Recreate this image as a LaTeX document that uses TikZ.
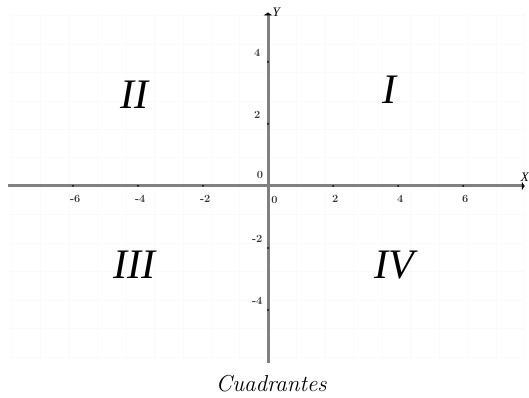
\documentclass[tikz,border=0pt]{standalone}
\usepackage{fontspec}
\newfontfamily\numerales{Liberation Serif}
\usepackage{tikz}
\usetikzlibrary{arrows.meta}

\tikzset{
  eje/.style={line width=3pt, black!50, -{Latex[length=3pt,width=10pt,black]}},
  nombreeje/.style={font=\fontsize{13}{13}\selectfont\numerales\itshape, text=black},
  marca/.style={font=\fontsize{11}{11}\selectfont\bfseries, inner sep=1pt, text=black!80},
  cuadrante/.style={font=\fontsize{42}{42}\selectfont\numerales\itshape, inner sep=0pt},
}

\begin{document}
\begin{tikzpicture}[x=32.5pt, y=31pt]
        \useasboundingbox (-268pt,186pt) rectangle (261pt,-212pt);
        %cuadricula muy tenue
        \draw[gray!4, very thin] (-8,-5.7) grid (7.9,5.6);
        %ejes
        \coordinate (xi) at (-8,0);
        \coordinate (xf) at (7.9,0);
        \coordinate (yi) at (0,-5.7);
        \coordinate (yf) at (0,5.6);
        \draw[eje] (xi)--(xf) node[nombreeje, above=2pt, inner sep=1pt] (ejeX) {X};
        \draw[eje] (yi)--(yf) node[nombreeje, right, inner sep=3pt] (ejeY) {Y};
        %marcas del eje X
        \foreach \i in {-6,-4,-2,2,4,6}{
            \fill (\i,0) circle (1pt);
            \node[marca] (mx\i) at (\i+0.07,-0.42) {\i};
        }
        \node[marca] (mx0) at (0.2,-0.44) {0};
        %marcas del eje Y
        \foreach \j in {-4,-2,2,4}{
            \fill (0,\j) circle (1pt);
            \node[marca] (my\j) at (-0.33,\j+0.3) {\j};
        }
        \node[marca] (my0) at (-0.25,0.37) {0};
        %cuadrantes
        \node[cuadrante] (q1) at (3.75,3.1) {I};
        \node[cuadrante] (q2) at (-4.1,2.95) {II};
        \node[cuadrante] (q3) at (-4.1,-2.55) {III};
        \node[cuadrante] (q4) at (3.9,-2.55) {IV};
        \node[font=\fontsize{23}{23}\selectfont\itshape] (titulo) at (0.1,-6.38) {Cuadrantes};
    \end{tikzpicture}
\end{document}
